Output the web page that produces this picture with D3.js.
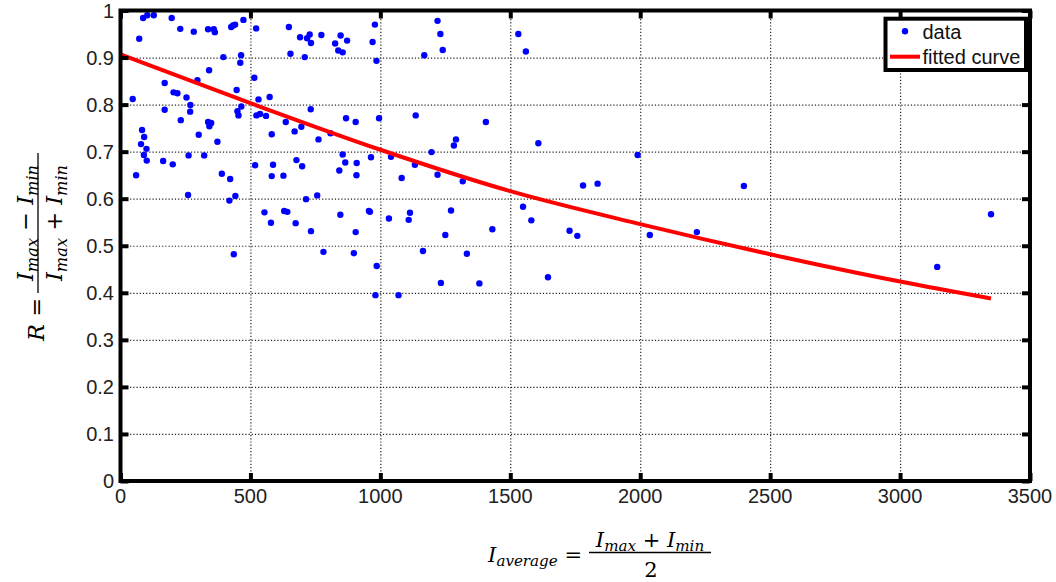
<!DOCTYPE html>
<html>
<head>
<meta charset="utf-8">
<script src="https://cdn.jsdelivr.net/npm/d3@7"></script>
<style>
  html, body { margin: 0; padding: 0; background: #fff; }
  svg { display: block; }
  .tick-label { font-family: "Liberation Sans", Arial, sans-serif; font-size: 20px; fill: #222; }
  .math { font-family: "DejaVu Serif", serif; font-style: italic; fill: #000; white-space: pre; }
  .legend-text { font-family: "Liberation Sans", Arial, sans-serif; font-size: 20px; fill: #111; }
</style>
</head>
<body>
<svg id="chart" width="1056" height="582"></svg>
<script>
// measured points (I_average, R)
const dataX = [
  47, 60, 72, 83, 91, 79, 100, 90, 101, 87, 103, 128, 197, 230, 282, 170, 170, 204, 219, 232,
  164, 201, 254, 269, 268, 262, 296, 301, 322, 341, 337, 349, 342, 373, 337, 359, 363, 396, 390, 422,
  426, 433, 441, 473, 464, 461, 447, 450, 454, 465, 515, 522, 531, 523, 537, 560, 574, 582, 518, 587,
  582, 627, 636, 670, 696, 732, 762, 677, 699, 648, 654, 709, 691, 718, 728, 733, 773, 826, 847, 838,
  855, 872, 808, 868, 905, 855, 865, 909, 842, 908, 964, 970, 979, 985, 995, 1041,
  260, 419, 442, 436, 554, 579, 630, 642, 674, 714, 757, 733, 781, 846, 905, 898, 956, 960, 986, 981,
  1033, 1070,
  1220, 1231, 1240, 1169, 1531, 1560, 1136, 1406, 1291, 1283, 1197, 1608, 1990, 1133, 1082, 1220, 1317, 1780, 1836,
  2399,
  1114, 1109, 1272, 1250, 1164, 1333, 1233, 1381, 1431, 1549, 1581, 1728, 1758, 1645, 2037,
  2218, 3350, 3143
];
const dataY = [
  0.812, 0.650, 0.940, 0.746, 0.731, 0.716, 0.706, 0.693, 0.681, 0.984, 0.990, 0.990, 0.984, 0.961, 0.955, 0.846, 0.789, 0.826, 0.824, 0.767,
  0.680, 0.673, 0.815, 0.799, 0.785, 0.692, 0.852, 0.736, 0.692, 0.873, 0.763, 0.761, 0.754, 0.721, 0.960, 0.960, 0.954, 0.901, 0.653, 0.642,
  0.965, 0.968, 0.970, 0.980, 0.905, 0.889, 0.831, 0.786, 0.777, 0.796, 0.857, 0.962, 0.811, 0.777, 0.780, 0.776, 0.816, 0.737, 0.671, 0.672,
  0.648, 0.649, 0.763, 0.743, 0.753, 0.790, 0.726, 0.682, 0.669, 0.965, 0.908, 0.901, 0.943, 0.941, 0.949, 0.931, 0.948, 0.930, 0.947, 0.915,
  0.911, 0.936, 0.739, 0.771, 0.763, 0.694, 0.677, 0.676, 0.660, 0.650, 0.688, 0.933, 0.970, 0.893, 0.771, 0.689,
  0.608, 0.596, 0.606, 0.482, 0.571, 0.549, 0.574, 0.572, 0.548, 0.599, 0.607, 0.531, 0.487, 0.566, 0.529, 0.484, 0.574, 0.572, 0.457, 0.395,
  0.558, 0.395,
  0.978, 0.950, 0.916, 0.905, 0.950, 0.913, 0.777, 0.763, 0.726, 0.713, 0.699, 0.718, 0.693, 0.672, 0.644, 0.651, 0.637, 0.628, 0.632,
  0.627,
  0.570, 0.555, 0.575, 0.523, 0.489, 0.483, 0.421, 0.420, 0.535, 0.583, 0.554, 0.532, 0.521, 0.433, 0.523,
  0.529, 0.567, 0.455
];

// fitted curve
const fitX = [0, 500, 1000, 1500, 2000, 2500, 3000, 3350];
const fitY = [0.907, 0.803, 0.704, 0.616, 0.546, 0.482, 0.424, 0.388];

const xTicks = [0, 500, 1000, 1500, 2000, 2500, 3000, 3500];
const yTicks = [0, 0.1, 0.2, 0.3, 0.4, 0.5, 0.6, 0.7, 0.8, 0.9, 1];

const legendLabels = ["data", "fitted curve"];

const svg = d3.select("#chart");

const x = d3.scaleLinear().domain([0, 3500]).range([120.5, 1030]);
const y = d3.scaleLinear().domain([0, 1]).range([481, 10.5]);

const plotH = y(0) - y(1);
const plotW = x(3500) - x(0);

// dotted grid
svg.append("g")
  .attr("transform", `translate(0,${y(0)})`)
  .call(d3.axisBottom(x).tickValues(xTicks.slice(1, -1)).tickSize(-plotH).tickFormat(""))
  .call(g => g.select(".domain").remove())
  .selectAll("line")
  .attr("stroke", "#222")
  .attr("stroke-width", 1.2)
  .attr("stroke-dasharray", "1.2,2");

svg.append("g")
  .attr("transform", `translate(${x(0)},0)`)
  .call(d3.axisLeft(y).tickValues(yTicks.slice(1, -1)).tickSize(-plotW).tickFormat(""))
  .call(g => g.select(".domain").remove())
  .selectAll("line")
  .attr("stroke", "#222")
  .attr("stroke-width", 1.2)
  .attr("stroke-dasharray", "1.2,2");

// data points
svg.append("g")
  .selectAll("circle")
  .data(dataX.map((d, i) => [d, dataY[i]]))
  .join("circle")
  .attr("cx", d => x(d[0]))
  .attr("cy", d => y(d[1]))
  .attr("r", 3.2)
  .attr("fill", "#0000ff");

// fitted curve
const line = d3.line()
  .x(d => x(d[0]))
  .y(d => y(d[1]))
  .curve(d3.curveMonotoneX);

svg.append("path")
  .datum(fitX.map((d, i) => [d, fitY[i]]))
  .attr("d", line)
  .attr("fill", "none")
  .attr("stroke", "#ff0000")
  .attr("stroke-width", 4);

// frame + inward ticks on all four sides
const frameTicks = (axis, tx, ty) => svg.append("g")
  .attr("transform", `translate(${tx},${ty})`)
  .call(axis.tickSizeInner(-8).tickSizeOuter(0).tickFormat(""))
  .call(g => g.select(".domain").remove())
  .selectAll("line")
  .attr("stroke", "#000")
  .attr("stroke-width", 4);

frameTicks(d3.axisBottom(x).tickValues(xTicks), 0, y(0));
frameTicks(d3.axisTop(x).tickValues(xTicks), 0, y(1));
frameTicks(d3.axisLeft(y).tickValues(yTicks), x(0), 0);
frameTicks(d3.axisRight(y).tickValues(yTicks), x(3500), 0);

svg.append("rect")
  .attr("x", x(0))
  .attr("y", y(1))
  .attr("width", plotW)
  .attr("height", plotH)
  .attr("fill", "none")
  .attr("stroke", "#000")
  .attr("stroke-width", 4);

// tick labels
svg.append("g")
  .selectAll("text")
  .data(xTicks)
  .join("text")
  .attr("class", "tick-label")
  .attr("x", d => x(d))
  .attr("y", 503)
  .attr("text-anchor", "middle")
  .text(d => d);

svg.append("g")
  .selectAll("text")
  .data(yTicks)
  .join("text")
  .attr("class", "tick-label")
  .attr("x", 114)
  .attr("y", d => y(d) + 7)
  .attr("text-anchor", "end")
  .text(d => (d === 0 || d === 1) ? d : d.toFixed(1));

// legend
const legend = svg.append("g").attr("transform", "translate(885.5,18.7)");
legend.append("rect")
  .attr("width", 140.5)
  .attr("height", 51.3)
  .attr("fill", "#fff")
  .attr("stroke", "#000")
  .attr("stroke-width", 4);
legend.append("circle")
  .attr("cx", 19.5)
  .attr("cy", 12.5)
  .attr("r", 3.2)
  .attr("fill", "#0000ff");
legend.append("line")
  .attr("x1", 4.5).attr("x2", 34.5)
  .attr("y1", 38).attr("y2", 38)
  .attr("stroke", "#ff0000")
  .attr("stroke-width", 4);
legend.selectAll("text.legend-text")
  .data(legendLabels)
  .join("text")
  .attr("class", "legend-text")
  .attr("x", 37)
  .attr("y", (d, i) => 20 + i * 25.5)
  .text(d => d);

// math labels
function addMath(parent, px, py, anchor, size, parts) {
  const t = parent.append("text")
    .attr("class", "math")
    .attr("x", px)
    .attr("y", py)
    .attr("text-anchor", anchor)
    .attr("font-size", size);
  let shift = 0;
  parts.forEach(p => {
    const want = p.sub ? Math.round(size * 0.2) : 0;
    const ts = t.append("tspan").attr("dy", want - shift).text(p.t);
    shift = want;
    if (p.sub) ts.attr("font-size", size * 0.72);
    if (p.up) ts.attr("font-style", "normal");
  });
}

const I = {t: "I"};
const sMax = {t: "max", sub: true};
const sMin = {t: "min", sub: true};

const xl = svg.append("g");
addMath(xl, 582, 561.5, "end", 21, [I, {t: "average", sub: true}, {t: " =", up: true}]);
xl.append("line")
  .attr("x1", 589).attr("x2", 711)
  .attr("y1", 552.5).attr("y2", 552.5)
  .attr("stroke", "#000").attr("stroke-width", 1.3);
addMath(xl, 650, 546.5, "middle", 21, [I, sMax, {t: " + ", up: true}, I, sMin]);
addMath(xl, 651, 576.5, "middle", 21, [{t: "2", up: true}]);

const yl = svg.append("g").attr("transform", "translate(38,223) rotate(-90)");
yl.append("line")
  .attr("x1", -70).attr("x2", 70)
  .attr("y1", 0).attr("y2", 0)
  .attr("stroke", "#000").attr("stroke-width", 1.3);
addMath(yl, 0, -5.5, "middle", 22.5, [I, sMax, {t: " − ", up: true}, I, sMin]);
addMath(yl, 0, 24, "middle", 22.5, [I, sMax, {t: " + ", up: true}, I, sMin]);
addMath(yl, -75, 5.5, "end", 22.5, [{t: "R"}, {t: " =", up: true}]);
</script>
</body>
</html>
